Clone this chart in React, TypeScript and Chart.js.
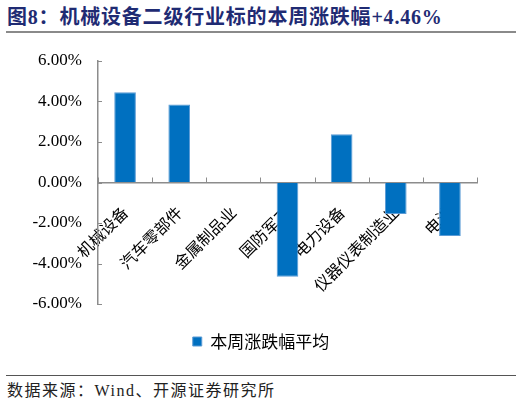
import React, { useEffect, useRef } from 'react';
import { Chart, registerables } from 'chart.js';

Chart.register(...registerables);

const categories = ['机械设备', '汽车零部件', '金属制品业', '国防军工', '电力设备', '仪器仪表制造业', '电池'];
const weeklyChange = [4.46, 3.85, 0.0, -4.66, 2.38, -1.55, -2.64];
const yTicks = [-6, -4, -2, 0, 2, 4, 6];
const seriesName = '本周涨跌幅平均';

const AXIS_GREY = '#8c8c8c';
const BAR_BLUE = '#0070C0';
const CJK = '"Noto Sans CJK SC", sans-serif';
const SERIF = '"Liberation Serif", "Noto Sans CJK SC", serif';

// Excel-style ticks that point into the plot area
const insideTicks = {
  id: 'insideTicks',
  afterDraw(chart: any) {
    const { ctx, scales } = chart;
    const x = scales.x;
    const y = scales.y;
    const y0 = y.getPixelForValue(0);
    ctx.save();
    ctx.strokeStyle = AXIS_GREY;
    ctx.lineWidth = 1;
    for (let i = 0; i <= categories.length; i++) {
      const px = Math.round(x.getPixelForValue(i - 0.5)) + 0.5;
      ctx.beginPath();
      ctx.moveTo(px, y0);
      ctx.lineTo(px, y0 - 5);
      ctx.stroke();
    }
    yTicks.forEach((v) => {
      const py = Math.round(y.getPixelForValue(v)) + 0.5;
      ctx.beginPath();
      ctx.moveTo(x.left, py);
      ctx.lineTo(x.left + 4, py);
      ctx.stroke();
    });
    ctx.restore();
  },
};

const App: React.FC = () => {
  const canvasRef = useRef<HTMLCanvasElement>(null);
  const chartRef = useRef<Chart | null>(null);

  useEffect(() => {
    if (!canvasRef.current) return;
    if (chartRef.current) chartRef.current.destroy();

    chartRef.current = new Chart(canvasRef.current, {
      type: 'bar',
      data: {
        labels: categories,
        datasets: [{
          label: seriesName,
          data: weeklyChange,
          backgroundColor: BAR_BLUE,
          borderColor: '#5b9bd5',
          borderWidth: 1,
          categoryPercentage: 1,
          barPercentage: 0.4,
        }],
      },
      options: {
        responsive: false,
        maintainAspectRatio: false,
        animation: false,
        layout: { padding: { top: 21, right: 0, left: 0, bottom: 5 } },
        scales: {
          x: {
            position: { y: 0 } as any,
            z: 1,
            offset: true,
            grid: { display: false, drawTicks: false },
            border: { display: true, color: AXIS_GREY, width: 1.5 },
            ticks: {
              autoSkip: false,
              maxRotation: 45,
              minRotation: 45,
              padding: 20,
              color: '#000',
              font: { family: CJK, size: 16 },
            },
          },
          y: {
            min: yTicks[0],
            max: yTicks[yTicks.length - 1],
            afterFit: (scale: any) => { scale.width = 98; },
            // invisible outside ticks just to push the labels away from the axis
            grid: { display: true, drawOnChartArea: false, drawTicks: true, tickLength: 10, tickColor: 'rgba(0,0,0,0)', color: 'rgba(0,0,0,0)' },
            border: { display: true, color: AXIS_GREY, width: 1.5 },
            ticks: {
              stepSize: 2,
              padding: 6,
              color: '#000',
              font: { family: SERIF, size: 17 },
              callback: (v: any) => `${Number(v).toFixed(2)}%`,
            },
          },
          // empty right-hand box that keeps the plot narrow but lets the legend centre on the page
          yRight: {
            position: 'right',
            display: true,
            afterFit: (scale: any) => { scale.width = 45; },
            grid: { display: false, drawTicks: false },
            border: { display: false },
            ticks: { display: false },
          },
        },
        plugins: {
          legend: {
            position: 'bottom',
            labels: {
              boxWidth: 9,
              boxHeight: 9,
              padding: 29,
              color: '#000',
              font: { family: CJK, size: 17 },
            },
          },
          tooltip: { enabled: false },
        },
      },
      plugins: [insideTicks],
    });

    return () => {
      if (chartRef.current) {
        chartRef.current.destroy();
        chartRef.current = null;
      }
    };
  }, []);

  return (
    <div style={{ position: 'absolute', left: 0, top: 0, width: 522, height: 405, background: '#fff', overflow: 'hidden' }}>
      <div style={{ position: 'absolute', left: 7, top: 5, fontFamily: SERIF, fontWeight: 'bold', fontSize: 20, letterSpacing: '0.8px', color: '#1f2b73', whiteSpace: 'nowrap', lineHeight: '24px' }}>
        图8：机械设备二级行业标的本周涨跌幅+4.46%
      </div>
      <div style={{ position: 'absolute', left: 6, top: 31, width: 510, height: 2, background: '#8a8a8a' }} />
      <canvas ref={canvasRef} width={522} height={325} style={{ position: 'absolute', left: 0, top: 40 }} />
      <div style={{ position: 'absolute', left: 6, top: 375, width: 510, height: 1, background: '#555' }} />
      <div style={{ position: 'absolute', left: 7, top: 381, fontFamily: SERIF, fontSize: 16, letterSpacing: '1.5px', color: '#222', whiteSpace: 'nowrap', lineHeight: '20px' }}>
        数据来源：Wind、开源证券研究所
      </div>
    </div>
  );
};

export default App;
